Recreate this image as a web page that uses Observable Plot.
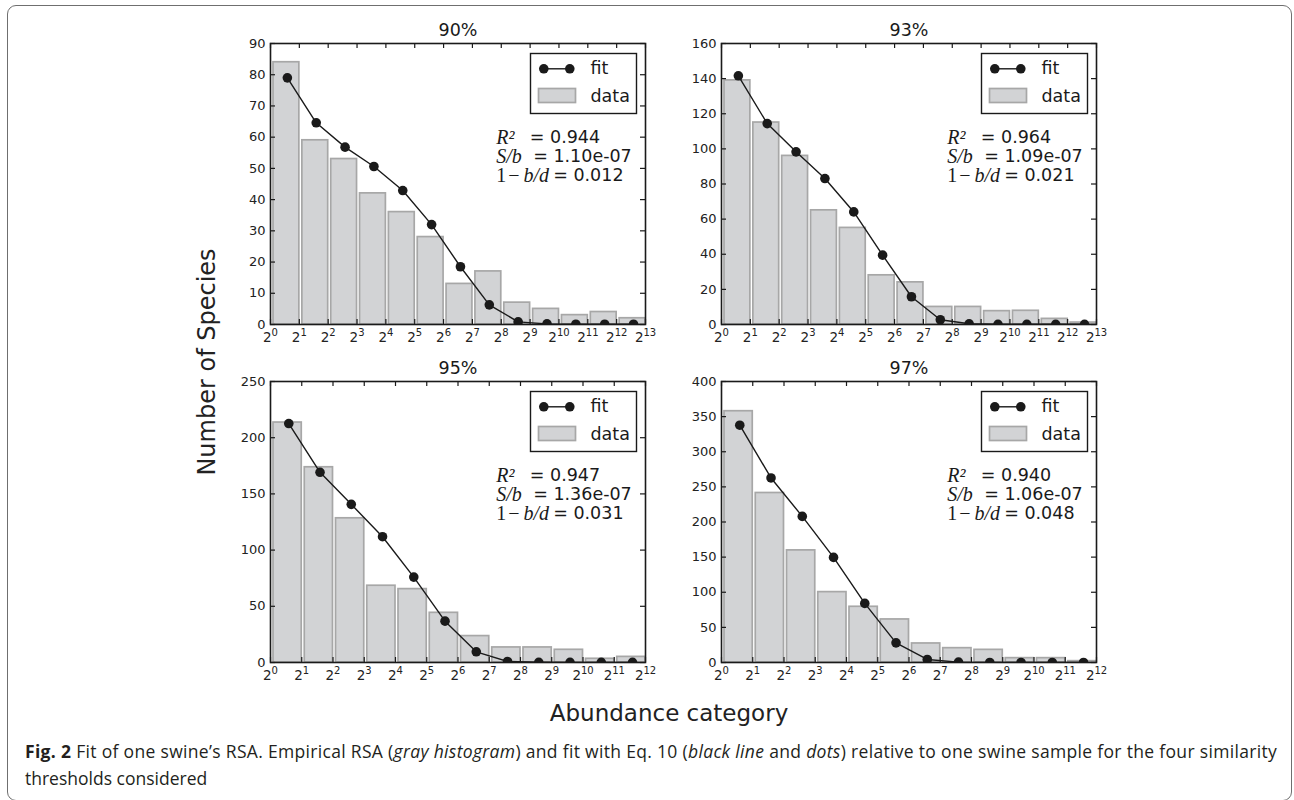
<!DOCTYPE html>
<html>
<head>
<meta charset="utf-8">
<script src="https://cdn.jsdelivr.net/npm/d3@7"></script>
<script src="https://cdn.jsdelivr.net/npm/@observablehq/plot@0.6"></script>
<style>
  html, body { margin: 0; padding: 0; background: #fff; }
  body { width: 1294px; height: 800px; position: relative; overflow: hidden; font-family: "DejaVu Sans", sans-serif; color: #222; }
  .border { position: absolute; left: 7px; top: 5px; width: 1285px; height: 796px; border: 1.5px solid #6f6f6f; border-radius: 9px; box-sizing: border-box; }
  .panel { position: absolute; }
  .ylabel { position: absolute; left: 207px; top: 362px; transform: translate(-50%, -50%) rotate(-90deg); font-size: 24px; line-height: 24px; white-space: nowrap; color: #222; }
  .xlabel { position: absolute; left: 669px; top: 713px; transform: translate(-50%, -50%); font-size: 23px; line-height: 23px; white-space: nowrap; color: #222; }
  .caption { position: absolute; left: 25px; top: 738px; font-family: "Open Sans", sans-serif; font-size: 17.5px; line-height: 27px; color: #231f20; white-space: nowrap; }
  .caption b { font-weight: 700; }
</style>
</head>
<body>
<div class="border"></div>
<div id="panels"></div>
<div class="ylabel">Number of Species</div>
<div class="xlabel">Abundance category</div>
<div class="caption"><span id="cap1"><b>Fig. 2</b> Fit of one swine’s RSA. Empirical RSA (<i>gray histogram</i>) and fit with Eq. 10 (<i>black line</i> and <i>dots</i>) relative to one swine sample for the four similarity</span><br><span>thresholds considered</span></div>
<script>
// ---- data ----
const binEdges = [1, 2, 4, 8, 16, 32, 64, 128, 256, 512, 1024, 2048, 4096, 8192];
const titles = ["90%", "93%", "95%", "97%"];
const lastExp = [13, 13, 12, 12];
const yMax = [90, 160, 250, 400];
const yStep = [10, 20, 50, 50];

const data90 = [84, 59, 53, 42, 36, 28, 13, 17, 7, 5, 3, 4, 2];
const fit90  = [79, 64.6, 56.8, 50.6, 42.9, 32, 18.5, 6.3, 0.85, 0.2, 0.1, 0.1, 0.1];
const data93 = [139, 115, 96, 65, 55, 28, 24, 10, 10, 7.6, 7.8, 3.2, 1.1];
const fit93  = [141.6, 114.4, 98.3, 83.1, 64.1, 39.5, 15.8, 2.7, 0.4, 0.1, 0.1, 0.1, 0.1];
const data95 = [213.5, 173.7, 128.3, 68.3, 65.3, 44.2, 23.5, 13.4, 13.4, 11.3, 3.3, 5];
const fit95  = [212.6, 169.2, 140.7, 111.9, 76, 36.8, 9.5, 0.9, 0.2, 0.1, 0.1, 0.1];
const data97 = [357.7, 241.3, 159.6, 100.2, 79.3, 61.3, 27.1, 20.4, 18, 6.2, 6.2, 1.9];
const fit97  = [337.8, 262.7, 208, 149.6, 84.1, 28, 4.3, 0.5, 0.1, 0.1, 0.1, 0.1];

const r2Text = ["0.944", "0.964", "0.947", "0.940"];
const sbText = ["1.10e-07", "1.09e-07", "1.36e-07", "1.06e-07"];
const bdText = ["0.012", "0.021", "0.031", "0.048"];

const histData = [data90, data93, data95, data97];
const fitData = [fit90, fit93, fit95, fit97];

// ---- layout ----
const W = 375, H = 281, ML = 50, MR = 8, MT = 45, MB = 32;
const frameOrigins = [[270, 43], [721, 43], [270, 381], [721, 381]];

const expOf = d => String(Math.round(Math.log2(d)));

const BAR_FILL = "#d2d3d5", BAR_STROKE = "#a7a7a7", INK = "#1a1a1a", TXT = "#222";
const SANS = "DejaVu Sans", SERIF = "Liberation Serif";
const container = document.getElementById("panels");

for (let i = 0; i < 4; i++) {
  const e = lastExp[i];
  const xt = binEdges.slice(0, e + 1);
  const xt1 = xt.filter(d => expOf(d).length === 1);
  const xt2 = xt.filter(d => expOf(d).length === 2);
  const yt = d3.range(0, yMax[i] + 1e-9, yStep[i]);
  const bars = histData[i].map((v, k) => ({lo: binEdges[k], hi: binEdges[k + 1], v}));
  const fits = fitData[i].map((v, k) => ({mid: (binEdges[k] + binEdges[k + 1]) / 2, v}));
  const txt = {frameAnchor: "top-left", textAnchor: "start", lineAnchor: "middle", fill: INK, text: d => d};
  const sans = {...txt, fontFamily: SANS, fontSize: 17.5};
  const math = {...txt, fontFamily: SERIF, fontStyle: "italic", fontSize: 20};
  const upr = {...txt, fontFamily: SERIF, fontSize: 20};
  const base = {x: d => d, frameAnchor: "bottom", lineAnchor: "middle", text: () => "2", fontFamily: SANS, fontSize: 13.5, fill: TXT, dy: 13.5};
  const expo = {x: d => d, frameAnchor: "bottom", lineAnchor: "middle", textAnchor: "start", text: expOf, fontFamily: SANS, fontSize: 10, fill: TXT, dy: 8.6};

  const plot = Plot.plot({
    width: ML + W + MR, height: MT + H + MB,
    marginLeft: ML, marginRight: MR, marginTop: MT, marginBottom: MB,
    x: {type: "log", base: 2, domain: [1, 2 ** e], label: null, axis: null},
    y: {domain: [0, yMax[i]], label: null},
    style: {fontFamily: SANS, fontSize: "13px", color: TXT, background: "transparent", overflow: "visible"},
    marks: [
      Plot.rectY(bars, {x1: "lo", x2: "hi", y: "v", fill: BAR_FILL, stroke: BAR_STROKE, strokeWidth: 1.7, insetLeft: 3}),
      Plot.line(fits, {x: "mid", y: "v", stroke: INK, strokeWidth: 1.4, clip: true}),
      Plot.dot(fits, {x: "mid", y: "v", r: 4.8, fill: INK, stroke: "none", clip: true}),
      // inward ticks on all four sides
      Plot.ruleX(xt, {x: d => d, insetTop: H - 5, stroke: INK, strokeWidth: 1.2}),
      Plot.ruleX(xt, {x: d => d, insetBottom: H - 5, stroke: INK, strokeWidth: 1.2}),
      Plot.ruleY(yt, {y: d => d, insetRight: W - 5, stroke: INK, strokeWidth: 1.2}),
      Plot.ruleY(yt, {y: d => d, insetLeft: W - 5, stroke: INK, strokeWidth: 1.2}),
      Plot.frame({stroke: INK, strokeWidth: 1.6}),
      // x tick labels 2^k (base and raised exponent)
      Plot.text(xt1, {...base, dx: -3.2}),
      Plot.text(xt1, {...expo, dx: 1.1}),
      Plot.text(xt2, {...base, dx: -6.3}),
      Plot.text(xt2, {...expo, dx: -2.0}),
      Plot.axisY({ticks: yt, tickSize: 0, tickPadding: 5, label: null, fontSize: 13, fontFamily: SANS, fill: TXT}),
      // title
      Plot.text([titles[i]], {frameAnchor: "top", lineAnchor: "middle", dy: -13, text: d => d, fontSize: 17.5, fontFamily: SANS, fill: INK}),
      // legend box
      Plot.frame({insetLeft: 260, insetRight: 9, insetTop: 10, insetBottom: H - 70, fill: "white", stroke: INK, strokeWidth: 1.4}),
      Plot.frame({insetLeft: 273, insetRight: W - 299, insetTop: 24.6, insetBottom: H - 26, fill: INK, stroke: "none"}),
      Plot.dot([0], {frameAnchor: "top-left", dx: 273.3, dy: 25.3, r: 4.8, fill: INK, stroke: "none"}),
      Plot.dot([0], {frameAnchor: "top-left", dx: 299.3, dy: 25.3, r: 4.8, fill: INK, stroke: "none"}),
      Plot.text(["fit"], {...sans, dx: 320, dy: 25.3}),
      Plot.frame({insetLeft: 268, insetRight: 70, insetTop: 45, insetBottom: H - 59, fill: BAR_FILL, stroke: BAR_STROKE, strokeWidth: 1.7}),
      Plot.text(["data"], {...sans, dx: 320, dy: 53}),
      // fit statistics
      Plot.text(["R²"], {...math, dx: 225.7, dy: 93.7}),
      Plot.text(["= " + r2Text[i]], {...sans, dx: 259.3, dy: 93.7}),
      Plot.text(["S/b"], {...math, dx: 225.7, dy: 112.7}),
      Plot.text(["= " + sbText[i]], {...sans, dx: 262.7, dy: 112.7}),
      Plot.text(["1"], {...upr, dx: 225.7, dy: 131.7}),
      Plot.text(["−"], {...upr, textAnchor: "middle", dx: 243.5, dy: 131.7}),
      Plot.text(["b/d"], {...math, dx: 253, dy: 131.7}),
      Plot.text(["= " + bdText[i]], {...sans, dx: 282.7, dy: 131.7})
    ]
  });
  const wrap = document.createElement("div");
  wrap.className = "panel";
  wrap.style.left = (frameOrigins[i][0] - ML) + "px";
  wrap.style.top = (frameOrigins[i][1] - MT) + "px";
  wrap.appendChild(plot);
  container.appendChild(wrap);
}

// fit caption first line to the reference width
const cap1 = document.getElementById("cap1");
const targetW = 1252;
const w0 = cap1.getBoundingClientRect().width;
const n = cap1.textContent.length;
cap1.style.letterSpacing = ((targetW - w0) / n) + "px";
</script>
</body>
</html>
